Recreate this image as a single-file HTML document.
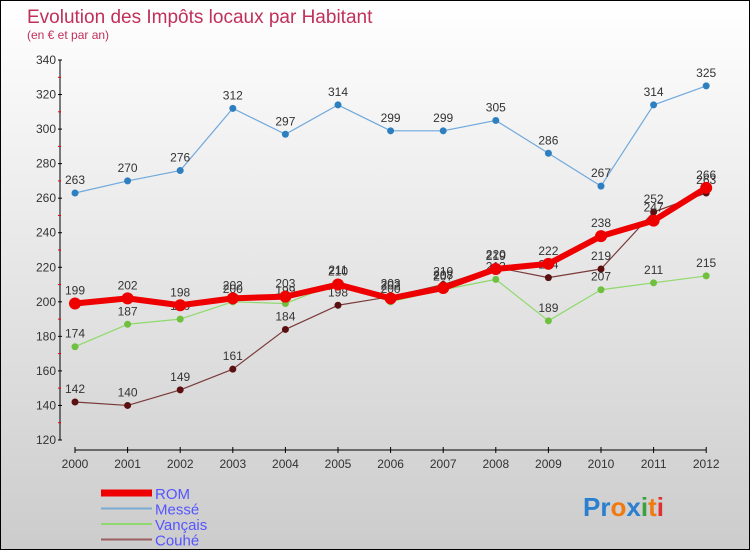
<!DOCTYPE html>
<html><head><meta charset="utf-8"><style>
body{margin:0}
#c{width:748px;height:548px;border:1px solid #000;background:linear-gradient(#fff,#ccc);position:relative;font-family:"Liberation Sans",sans-serif}
</style></head><body>
<div id="c">
<svg id="s" width="748" height="548"></svg>
</div>
<script>
const years=[2000,2001,2002,2003,2004,2005,2006,2007,2008,2009,2010,2011,2012];
const yTicks=[120,140,160,180,200,220,240,260,280,300,320,340];
const rom=[199,202,198,202,203,210,202,208,219,222,238,247,266];
const messe=[263,270,276,312,297,314,299,299,305,286,267,314,325];
const vancais=[174,187,190,200,199,211,200,207,213,189,207,211,215];
const couhe=[142,140,149,161,184,198,203,210,220,214,219,252,263];
const NS="http://www.w3.org/2000/svg",s=document.getElementById('s');
function x(i){return 74+i*52.6;}
function y(v){return 439-(v-120)*380/220;}
function el(t,a,p){const e=document.createElementNS(NS,t);for(const k in a)e.setAttribute(k,a[k]);(p||s).appendChild(e);return e;}
let t=el('text',{x:26,y:22,fill:'#c0305a','font-size':19});t.textContent='Evolution des Impôts locaux par Habitant';

t=el('text',{x:26,y:38,fill:'#c0305a','font-size':12});t.textContent='(en € et par an)';

const ya=el('line',{x1:59,y1:59,x2:59,y2:439,stroke:'#000'});

yTicks.forEach((v,i)=>{el('line',{x1:57,x2:61,y1:y(v),y2:y(v),stroke:'#000'});
 if(i<yTicks.length-1)el('line',{x1:57,x2:60,y1:y(v+10),y2:y(v+10),stroke:'#e00'});
 const l=el('text',{x:55,y:y(v)+4,'text-anchor':'end','font-size':12,fill:'#333'});l.textContent=v;
 });
const xa=el('line',{x1:x(0),y1:449,x2:x(12),y2:449,stroke:'#000'});

years.forEach((yr,i)=>{el('line',{x1:x(i),x2:x(i),y1:446,y2:452,stroke:'#000'});
 const l=el('text',{x:x(i),y:467,'text-anchor':'middle','font-size':12,fill:'#333'});l.textContent=yr;
 });
function series(d,col,w,r,dot,name){
 const g=el('g',{});
 el('polyline',{points:d.map((v,i)=>x(i)+','+y(v)).join(' '),fill:'none',stroke:col,'stroke-width':w,'stroke-linejoin':'round'},g);
 d.forEach((v,i)=>{const c=el('circle',{cx:x(i),cy:y(v),r:r,fill:dot},g);
  
  const l=el('text',{x:x(i),y:y(v)-9,'text-anchor':'middle','font-size':12,fill:'#333'},g);l.textContent=v;
  });
}
series(messe,'#6fa8dc',1.2,3.5,'#2e7fc0','messe');
series(vancais,'#8fd96a',1.2,3.5,'#70c040','vancais');
series(couhe,'#7a3a3a',1.2,3.5,'#5a1010','couhe');
series(rom,'#ee0000',6,6,'#ee0000','rom');
const leg=[['ROM','#ee0000',7],['Messé','#7aaad0',2],['Vançais','#90d870',2],['Couhé','#9a6060',2]];
leg.forEach((L,i)=>{const yy=492+i*15.5;
 const g=el('g',{});
 el('line',{x1:100,x2:151,y1:yy,y2:yy,stroke:L[1],'stroke-width':L[2]},g);
 const tx=el('text',{x:154,y:yy+6,'font-size':15,fill:'#5555ff'},g);tx.textContent=L[0];});
const lg=el('text',{x:582,y:515,'font-size':26,'font-weight':'bold'});

[['Pr','#2a7fcf'],['o','#f07a10'],['x','#2a7fcf'],['i','#3aa040'],['t','#f07a10'],['i','#e03030']].forEach(p=>{const ts=el('tspan',{fill:p[1]},lg);ts.textContent=p[0];});
</script>
</body></html>
